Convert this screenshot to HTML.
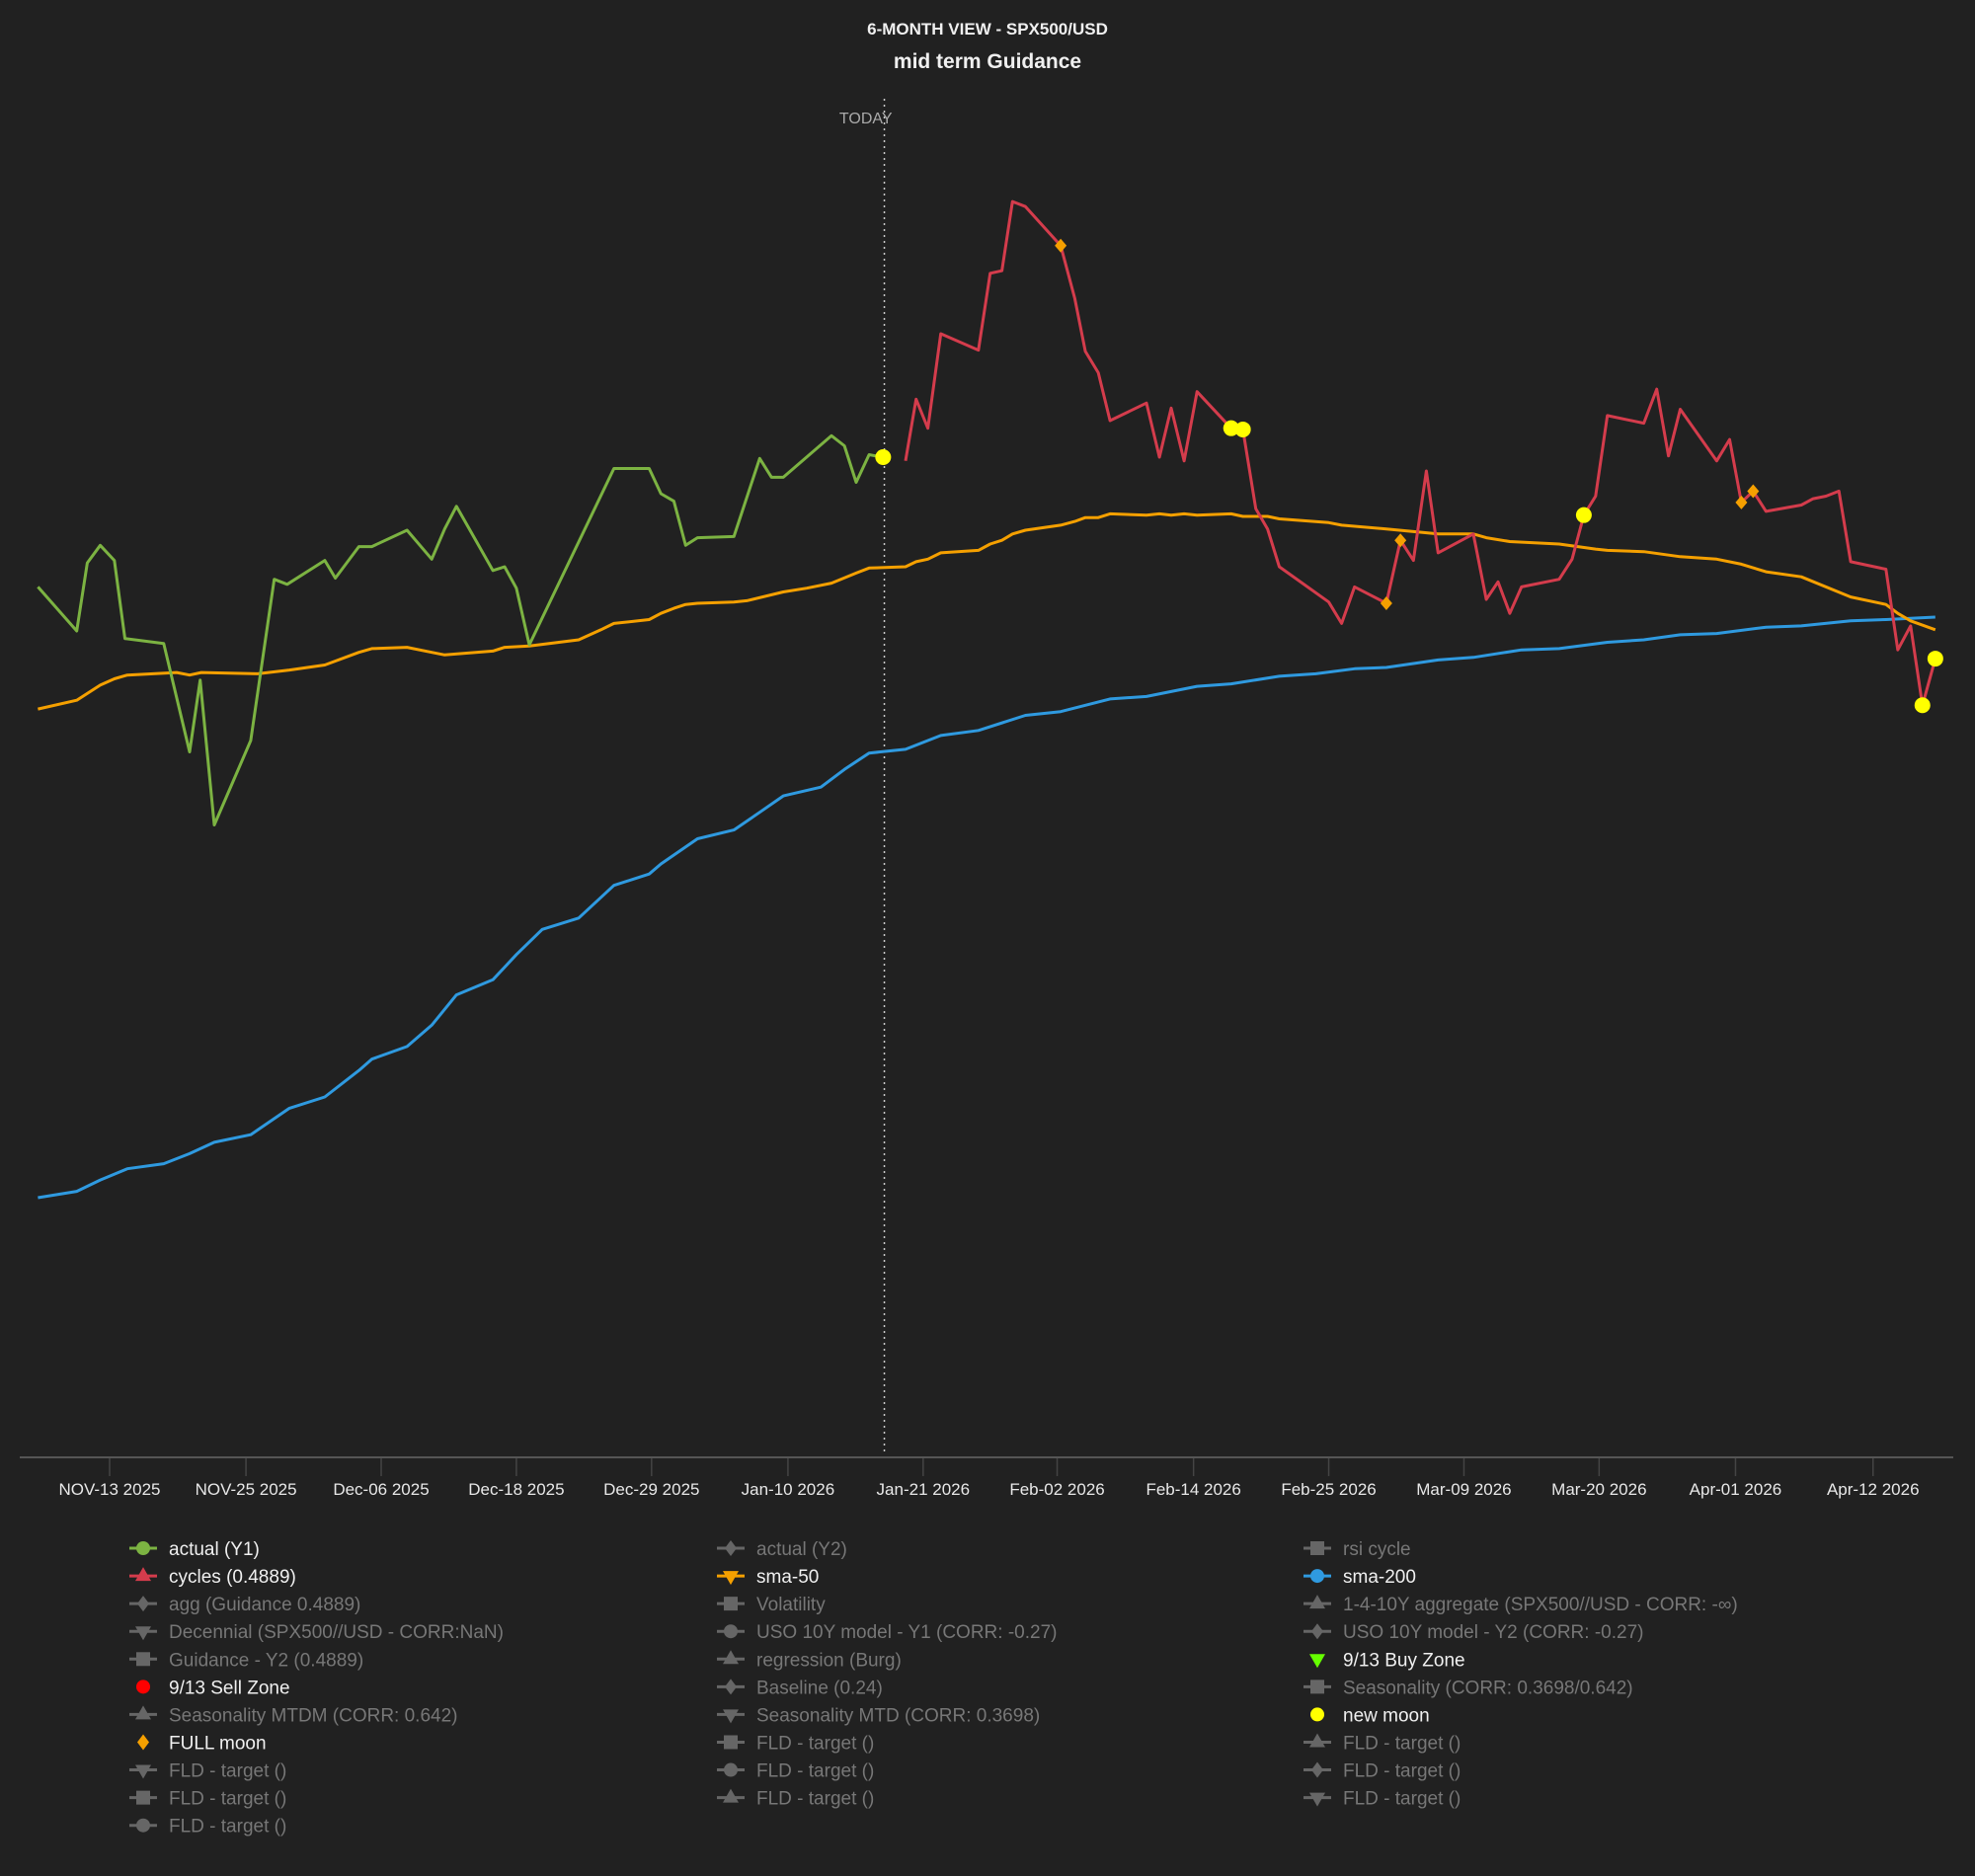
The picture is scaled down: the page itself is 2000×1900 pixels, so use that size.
<!DOCTYPE html>
<html><head><meta charset="utf-8">
<style>
html,body{margin:0;padding:0;background:#212121;}
svg{display:block;font-family:"Liberation Sans",sans-serif;}
</style></head>
<body>
<svg id="chart" width="2000" height="1900" viewBox="0 0 2000 1900" xmlns="http://www.w3.org/2000/svg">
<rect x="0" y="0" width="2000" height="1900" fill="#212121"/>
<text x="1000" y="35" text-anchor="middle" fill="#f0f0f0" font-size="17" font-weight="bold">6-MONTH VIEW - SPX500/USD</text>
<text x="1000" y="69" text-anchor="middle" fill="#f0f0f0" font-size="21" font-weight="bold">mid term Guidance</text>
<g id="axis"></g>
<g id="series"></g>
<g id="legend"></g>
</svg>
<script>
// x values: days since Nov-13 2025; y values: index level
const tickLabels = ["NOV-13 2025","NOV-25 2025","Dec-06 2025","Dec-18 2025","Dec-29 2025","Jan-10 2026","Jan-21 2026","Feb-02 2026","Feb-14 2026","Feb-25 2026","Mar-09 2026","Mar-20 2026","Apr-01 2026","Apr-12 2026"];
const tickDays = [0,11.6,23.1,34.6,46.1,57.7,69.2,80.6,92.2,103.7,115.2,126.7,138.3,150];
const todayDay = 65.9;

const actualDays = [-6.1,-2.8,-1.9,-0.8,0.4,1.3,4.6,6.8,7.7,8.9,12.0,14.0,15.1,18.3,19.2,21.2,22.3,25.3,27.4,28.5,29.5,32.6,33.6,34.6,35.7,42.9,45.9,46.9,48.0,49.0,50.0,53.1,55.3,56.3,57.3,61.4,62.5,63.5,64.6,65.7];
const actualVals = [691,656,710,724,712,650,646,560,617,502,569,697,693,712,698,723,723,736,713,737,755,704,707,690,645,785,785,765,759,724,730,731,793,778,778,811,803,774,796,794];

const cycleDays = [67.7,68.6,69.6,70.7,73.9,74.9,75.9,76.8,77.9,80.9,82.1,83.0,84.1,85.1,88.2,89.3,90.3,91.4,92.5,95.4,96.4,97.5,98.5,99.5,103.7,104.8,105.9,108.6,109.8,110.9,112.0,113.0,116.0,117.1,118.1,119.1,120.1,123.3,124.4,125.4,126.4,127.4,130.5,131.6,132.6,133.6,136.7,137.8,138.8,139.8,140.9,143.9,144.9,146.0,147.1,148.1,151.1,152.1,153.2,154.2,155.3];
const cycleVals = [791,840,817,892,879,940,942,997,993,962,920,878,861,823,837,794,833,791,846,817,816,753,737,707,679,662,691,678,728,712,783,718,733,681,695,670,691,697,713,748,763,827,821,848,795,832,791,808,758,767,751,756,761,763,767,711,705,641,660,597,634];

const sma50Days = [-6.1,-2.8,-0.8,0.4,1.5,5.7,6.8,7.8,12.6,15.3,18.3,21.2,22.3,25.3,27.4,28.5,32.6,33.6,35.7,39.9,41.8,42.9,45.9,46.9,48.0,49.0,50.0,53.1,54.2,57.3,59.3,61.4,63.5,64.6,67.7,68.6,69.6,70.7,73.9,74.9,75.9,76.8,77.9,80.9,82.1,83.0,84.1,85.1,88.2,89.3,90.3,91.4,92.5,95.4,96.4,98.5,99.5,103.7,104.8,108.6,113.0,116.0,117.1,119.1,123.3,126.4,127.4,130.5,133.6,136.7,138.8,140.9,143.9,148.1,151.1,152.1,153.2,155.3];
const sma50Vals = [594,601,613,618,621,623,621,623,622,625,629,639,642,643,639,637,640,643,644,649,657,662,665,670,674,677,678,679,680,687,690,694,702,706,707,711,713,718,720,725,728,733,736,740,743,746,746,749,748,749,748,749,748,749,747,747,745,742,740,737,733,733,730,727,725,721,720,719,715,713,709,703,699,683,677,670,664,657];

const sma200Days = [-6.1,-2.8,-0.8,1.5,4.6,6.8,8.9,12.0,15.3,18.3,21.2,22.3,25.3,27.4,29.5,32.6,34.6,36.8,39.9,42.9,45.9,46.9,50.0,53.1,55.3,57.3,60.5,62.5,64.6,67.7,70.7,73.9,77.9,80.9,83.0,85.1,88.2,92.5,95.4,99.5,102.6,105.9,108.6,113.0,116.0,120.1,123.3,127.4,130.5,133.6,136.7,140.9,143.9,148.1,151.1,153.2,155.3];
const sma200Vals = [206,211,220,229,233,241,250,256,277,286,307,316,326,343,367,379,399,419,428,454,463,471,491,498,512,525,532,546,559,562,573,577,589,592,597,602,604,612,614,620,622,626,627,633,635,641,642,647,649,653,654,659,660,664,665,666,667];

const newMoonDays = [65.8,95.4,96.4,125.4,154.2,155.3];
const newMoonVals = [794,817,816,748,597,634];
const fullMoonDays = [80.9,108.6,109.8,138.8,139.8];
const fullMoonVals = [962,678,728,758,767];

const NS = "http://www.w3.org/2000/svg";
function xScale(d){ return 111 + d*11.905; }
function yScale(v){ return (1157 - v)*1.2755; }
function mk(tag, attrs, parent){ const e=document.createElementNS(NS,tag); for(const k in attrs) e.setAttribute(k, attrs[k]); parent.appendChild(e); return e; }

const axis = document.getElementById('axis');
const series = document.getElementById('series');
const legend = document.getElementById('legend');

let al = mk('line',{x1:20,y1:1476,x2:1978,y2:1476,stroke:'#555','stroke-width':2},axis);


tickLabels.forEach((t,i)=>{
  const x = xScale(tickDays[i]);
  const tk = mk('line',{x1:x,y1:1477,x2:x,y2:1495,stroke:'#444','stroke-width':1.5},axis);
  
  
  const tl = mk('text',{x:x,y:1514,'text-anchor':'middle',fill:'#e8e8e8','font-size':17},axis);
  tl.textContent = t;
  
  
});

const tx = xScale(todayDay);
const tline = mk('line',{x1:tx,y1:100,x2:tx,y2:1474,stroke:'#cccccc','stroke-width':1.5,'stroke-dasharray':'2,4'},series);


const ttxt = mk('text',{x:tx+8,y:125,'text-anchor':'end',fill:'#aaaaaa','font-size':16},series);
ttxt.textContent='TODAY';



function drawLine(days, vals, color, name){
  const d = days.map((x,i)=>(i?'L':'M')+xScale(x).toFixed(1)+','+yScale(vals[i]).toFixed(1)).join(' ');
  const p = mk('path',{d:d,fill:'none',stroke:color,'stroke-width':3,'stroke-linejoin':'round'},series);
  
  
}
drawLine(sma200Days, sma200Vals, '#2f9ae0', 'sma-200-line');
drawLine(sma50Days, sma50Vals, '#f5a000', 'sma-50-line');
drawLine(actualDays, actualVals, '#7cb342', 'actual-y1-line');
drawLine(cycleDays, cycleVals, '#d43c4c', 'cycles-line');

fullMoonDays.forEach((d,i)=>{
  const x=xScale(d), y=yScale(fullMoonVals[i]);
  const m = mk('path',{d:`M${x},${y-7} L${x+6},${y} L${x},${y+7} L${x-6},${y} Z`,fill:'#f5a000'},series);
  
  
});
newMoonDays.forEach((d,i)=>{
  const m = mk('circle',{cx:xScale(d),cy:yScale(newMoonVals[i]),r:8,fill:'#ffff00'},series);
  
  
});

const legendItems = [
 ["actual (Y1)","#7cb342","circle",true],["actual (Y2)","#666","diamond",false],["rsi cycle","#666","square",false],
 ["cycles (0.4889)","#d43c4c","tri",true],["sma-50","#f5a000","down",true],["sma-200","#2f9ae0","circle",true],
 ["agg (Guidance 0.4889)","#666","diamond",false],["Volatility","#666","square",false],["1-4-10Y aggregate (SPX500//USD - CORR: -\u221e)","#666","tri",false],
 ["Decennial (SPX500//USD - CORR:NaN)","#666","down",false],["USO 10Y model - Y1 (CORR: -0.27)","#666","circle",false],["USO 10Y model - Y2 (CORR: -0.27)","#666","diamond",false],
 ["Guidance - Y2 (0.4889)","#666","square",false],["regression (Burg)","#666","tri",false],["9/13 Buy Zone","#66ff00","downonly",true],
 ["9/13 Sell Zone","#ff0000","dot",true],["Baseline (0.24)","#666","diamond",false],["Seasonality (CORR: 0.3698/0.642)","#666","square",false],
 ["Seasonality MTDM (CORR: 0.642)","#666","tri",false],["Seasonality MTD (CORR: 0.3698)","#666","down",false],["new moon","#ffff00","dot",true],
 ["FULL moon","#f5a000","diamondonly",true],["FLD - target ()","#666","square",false],["FLD - target ()","#666","tri",false],
 ["FLD - target ()","#666","down",false],["FLD - target ()","#666","circle",false],["FLD - target ()","#666","diamond",false],
 ["FLD - target ()","#666","square",false],["FLD - target ()","#666","tri",false],["FLD - target ()","#666","down",false],
 ["FLD - target ()","#666","circle",false]
];
const colX = [145,740,1334];
legendItems.forEach((it,i)=>{
  const col=i%3, row=Math.floor(i/3);
  const cx=colX[col], cy=1568+row*28.07;
  const g = mk('g',{},legend);
  
  
  const c=it[1], s=it[2];
  if(!['dot','downonly','diamondonly'].includes(s)) mk('line',{x1:cx-14,y1:cy,x2:cx+14,y2:cy,stroke:c,'stroke-width':3},g);
  if(s==='circle'||s==='dot') mk('circle',{cx:cx,cy:cy,r:7,fill:c},g);
  else if(s==='square') mk('rect',{x:cx-7,y:cy-7,width:14,height:14,fill:c},g);
  else if(s==='diamond'||s==='diamondonly') mk('path',{d:`M${cx},${cy-8} L${cx+6},${cy} L${cx},${cy+8} L${cx-6},${cy} Z`,fill:c},g);
  else if(s==='tri') mk('path',{d:`M${cx},${cy-9} L${cx+8},${cy+5} L${cx-8},${cy+5} Z`,fill:c},g);
  else mk('path',{d:`M${cx},${cy+9} L${cx+8},${cy-5} L${cx-8},${cy-5} Z`,fill:c},g);
  const t = mk('text',{x:cx+26,y:cy+7,fill:it[3]?'#f0f0f0':'#777','font-size':19},g);
  t.textContent = it[0];
});
</script>
</body></html>
